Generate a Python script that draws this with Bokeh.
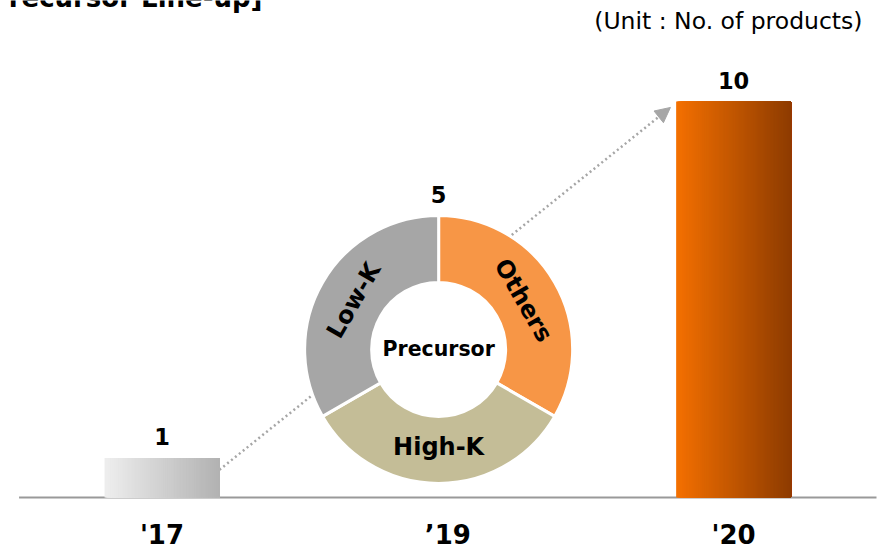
import numpy as np
from bokeh.plotting import figure
from bokeh.models import Range1d, Label, Arrow, NormalHead, ColumnDataSource
from bokeh.core.properties import value
from bokeh.embed import file_html
from bokeh.resources import INLINE

# ---------------- data ----------------
title_text = "[Precursor Line-up]"
categories = ["'17", "\u201919", "'20"]
bar_values = [1, 5, 10]            # '19 is shown as a donut
donut_value_label = "5"
donut_labels = ["Others", "High-K", "Low-K"]
donut_shares = [1, 1, 1]
center_text = "Precursor"
unit_text = "(Unit : No. of products)"

# ---------------- styles / layout ----------------
FONT = "DejaVu Sans"
W, H = 890, 549
BAR_W = 0.402
bar_gradients = {0: ("#EEEEEE", "#B2B2B2"), 2: ("#F47000", "#8E3C00")}
donut_colors = ["#F79646", "#C4BD97", "#A6A6A6"]
R_OUT, R_IN, R_LBL = 134, 67, 98
DONUT_X = 1 - 0.032
DONUT_Y = 3.74
GRAY = "#A6A6A6"

p = figure(width=W, height=H, output_backend="svg", toolbar_location=None,
           x_range=Range1d(-0.565, 2.549), y_range=Range1d(-1.313, 12.551),
           min_border=0, outline_line_color=None, background_fill_color="white",
           border_fill_color="white")
p.axis.visible = False
p.grid.visible = False

# baseline
n_cat = len(categories)
p.segment(x0=[-0.5], y0=[0], x1=[n_cat - 0.5], y1=[0], line_color="#999999", line_width=2)


def mix(c0, c1, t):
    a = [int(c0[i:i + 2], 16) for i in (1, 3, 5)]
    b = [int(c1[i:i + 2], 16) for i in (1, 3, 5)]
    return "#%02x%02x%02x" % tuple(int(round(a[k] + (b[k] - a[k]) * t)) for k in range(3))


# gradient bars: overlapping strips, each running to the bar's right edge (no seams)
for idx, (c0, c1) in bar_gradients.items():
    n = 116
    lefts = idx - BAR_W / 2 + np.arange(n) * BAR_W / n
    right = idx + BAR_W / 2
    cols = [mix(c0, c1, t) for t in np.linspace(0, 1, n)]
    p.quad(left=lefts, right=[right] * n, bottom=0, top=bar_values[idx],
           fill_color=cols, line_color=None)

# value labels on bars
bar_idx = list(bar_gradients.keys())
p.text(x=bar_idx, y=[bar_values[i] for i in bar_idx], text=[str(bar_values[i]) for i in bar_idx],
       text_font=value(FONT), text_font_style="bold", text_font_size="22.5px",
       text_align="center", text_baseline="alphabetic", y_offset=-21, text_color="black")

# dotted arrow (under the donut)
arrow = Arrow(end=NormalHead(size=15, fill_color=GRAY, line_color=GRAY),
              x_start=bar_idx[0] + BAR_W / 2, y_start=bar_values[0] * 0.7,
              x_end=bar_idx[-1] - BAR_W / 2 - 0.02, y_end=bar_values[-1] - 0.15,
              line_color=GRAY, line_width=2.5, line_dash="2 3", level="underlay")
p.add_layout(arrow)

# donut
p.scatter(x=[DONUT_X], y=[DONUT_Y], size=2 * R_OUT, marker="circle",
          fill_color="white", line_color=None)
tot = sum(donut_shares)
cum = np.cumsum([0] + donut_shares)
starts, ends, mids = [], [], []
for i in range(len(donut_shares)):
    a_hi = np.pi / 2 - 2 * np.pi * cum[i] / tot
    a_lo = np.pi / 2 - 2 * np.pi * cum[i + 1] / tot
    starts.append(a_lo)
    ends.append(a_hi)
    m = (a_lo + a_hi) / 2
    m = (m + np.pi) % (2 * np.pi) - np.pi
    mids.append(m)
p.annular_wedge(x=DONUT_X, y=DONUT_Y, inner_radius=R_IN, outer_radius=R_OUT,
                inner_radius_units="screen", outer_radius_units="screen",
                start_angle=starts, end_angle=ends, fill_color=donut_colors,
                line_color="white", line_width=3)

angs = []
for m in mids:
    a = m - np.pi / 2
    if a < -np.pi / 2:
        a += np.pi
    angs.append(a)
lsrc = ColumnDataSource(dict(x=[DONUT_X] * 3, y=[DONUT_Y] * 3, text=donut_labels,
                             angle=angs,
                             xo=[R_LBL * np.cos(m) for m in mids],
                             yo=[-R_LBL * np.sin(m) for m in mids]))
p.text(x="x", y="y", text="text", angle="angle", x_offset="xo", y_offset="yo",
       source=lsrc, text_font=value(FONT), text_font_style="bold", text_font_size="24px",
       text_align="center", text_baseline="middle", text_color="black")

p.text(x=[DONUT_X], y=[DONUT_Y], text=[center_text], text_font=value(FONT),
       text_font_style="bold", text_font_size="20.5px", text_align="center",
       text_baseline="middle", text_color="black")
p.text(x=[DONUT_X], y=[DONUT_Y], text=[donut_value_label], text_font=value(FONT),
       text_font_style="bold", text_font_size="22.5px", text_align="center",
       text_baseline="alphabetic", y_offset=-(R_OUT + 21), text_color="black")

# category labels
p.text(x=list(range(n_cat)), y=[0] * n_cat, text=categories, text_font=value(FONT),
       text_font_style="bold", text_font_size="26px", text_align="center",
       text_baseline="top", y_offset=22, text_color="black")

# unit note
p.add_layout(Label(x=862, y=H - 20, x_units="screen", y_units="screen", text=unit_text,
                   text_font=FONT, text_font_size="23.5px", text_align="right",
                   text_baseline="middle", text_color="black"))

# title (cropped at the top edge, as in the reference)
p.add_layout(Label(x=262, y=H + 3, x_units="screen", y_units="screen", text=title_text,
                   text_font=FONT, text_font_style="bold", text_font_size="26px",
                   text_align="right", text_baseline="alphabetic", text_color="black"))

open("out.html", "w").write(file_html(p, INLINE))
